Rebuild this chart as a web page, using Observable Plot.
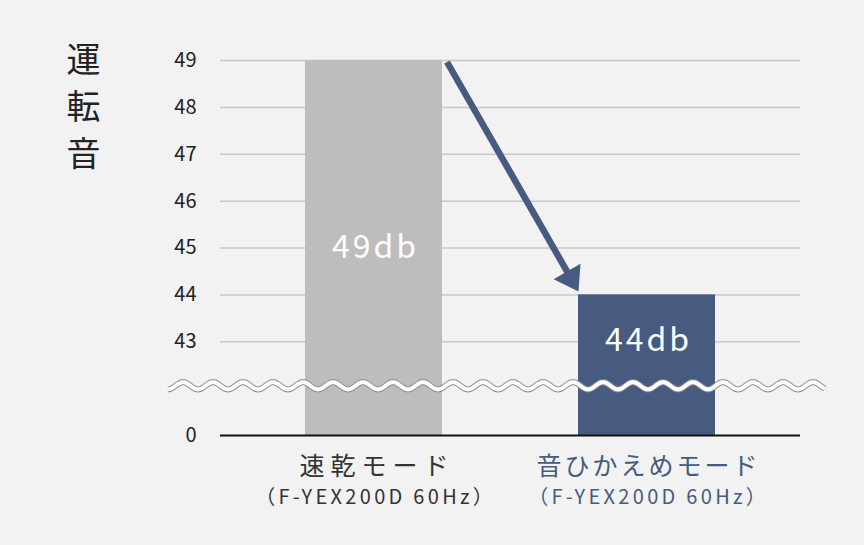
<!DOCTYPE html>
<html><head><meta charset="utf-8">
<script src="https://cdn.jsdelivr.net/npm/d3@7"></script>
<script src="https://cdn.jsdelivr.net/npm/@observablehq/plot@0.6"></script>
<style>
html,body{margin:0;padding:0;background:#f2f2f2;}
#chart{width:864px;height:545px;}
</style></head><body><div id="chart"></div>
<script>
// ---- data ----
const categories = ["速乾モード", "音ひかえめモード"];
const models = ["（F-YEX200D 60Hz）", "（F-YEX200D 60Hz）"];
const values = [49, 44];
const valueLabels = ["49db", "44db"];
const barColors = ["#bdbdbd", "#475a80"];
const textColors = ["#333333", "#475a80"];
const yTicks = [43, 44, 45, 46, 47, 48, 49];
const axisBase = 41;      // visual position of the "0" baseline (axis is broken)
const breakAt = 42.05;    // where the wavy break line sits
const yTitle = "運転音";

const data = categories.map((c, i) => ({
  category: c, model: models[i], value: values[i],
  label: valueLabels[i], bar: barColors[i], ink: textColors[i]
}));

const font = "'Noto Sans CJK JP', 'Noto Sans', sans-serif";

// wavy axis-break decoration
function waveBreak(index, scales, vals, dims) {
  const y0 = scales.y(breakAt);
  const start = dims.marginLeft - 52, end = dims.width - dims.marginRight + 26;
  const period = 30, amp = 3.6, phase = dims.marginLeft - 44.5;
  const pts = d3.range(start, end, 1).map(x => [x, y0 - amp * Math.sin(2 * Math.PI * (x - phase) / period)]);
  const path = d3.line()(pts);
  const g = d3.create("svg:g");
  g.append("path").attr("d", path).attr("fill", "none").attr("stroke", "#8c8c8c").attr("stroke-width", 6);
  g.append("path").attr("d", path).attr("fill", "none").attr("stroke", "#ffffff").attr("stroke-width", 4);
  return g.node();
}

// arrow from top of first bar to top of second bar
function arrowMark(index, scales, vals, dims) {
  const x = scales.x, y = scales.y;
  const bw = typeof x.bandwidth === "function" ? x.bandwidth() : (scales.scales && scales.scales.x && scales.scales.x.bandwidth) || 0;
  const x1 = x(categories[0]) + bw + 5, y1 = y(values[0]) + 2;
  const x2 = x(categories[1]) + 0.5, y2 = y(values[1]) - 3;
  const dx = x2 - x1, dy = y2 - y1, len = Math.hypot(dx, dy);
  const ux = dx / len, uy = dy / len, px = -uy, py = ux;
  const headLen = 23, halfW = 15.5;
  const bx = x2 - ux * headLen, by = y2 - uy * headLen;
  const col = "#475a80";
  const g = d3.create("svg:g");
  g.append("line").attr("x1", x1).attr("y1", y1)
    .attr("x2", bx + ux * 3).attr("y2", by + uy * 3)
    .attr("stroke", col).attr("stroke-width", 6.5);
  g.append("path")
    .attr("d", `M${x2},${y2}L${bx + px * halfW},${by + py * halfW}L${bx - px * halfW},${by - py * halfW}Z`)
    .attr("fill", col);
  return g.node();
}

const chart = Plot.plot({
  width: 864, height: 545,
  marginTop: 60, marginBottom: 110, marginLeft: 220, marginRight: 64,
  style: {background: "transparent", fontFamily: font, overflow: "visible"},
  x: {type: "band", domain: categories, paddingInner: 0.5, paddingOuter: 0.31, axis: null},
  y: {domain: [axisBase, d3.max(yTicks)], axis: null},
  color: {type: "identity"},
  marks: [
    Plot.gridY(yTicks, {stroke: "#c8c8c8", strokeOpacity: 1, strokeWidth: 1.5}),
    Plot.barY(data, {x: "category", y1: axisBase, y2: "value", fill: "bar"}),
    Plot.ruleY([axisBase], {stroke: "#111111", strokeWidth: 2}),
    Plot.axisY([axisBase, ...yTicks], {
      tickSize: 0, tickPadding: 24, fontSize: 20, fill: "#222222", label: null,
      tickFormat: d => d === axisBase ? "0" : String(d)
    }),
    waveBreak,
    arrowMark,
    Plot.text(data, {
      x: "category",
      y: d => d.value === d3.max(values) ? (d.value + axisBase) / 2 : (d.value + breakAt) / 2,
      text: "label", fill: "#ffffff", fontSize: 32
    }),
    Plot.text(data, {x: "category", y: axisBase, dy: 31, text: "category", fill: "ink", fontSize: 25}),
    Plot.text(data, {x: "category", y: axisBase, dy: 62, text: "model", fill: "ink", fontSize: 20}),
    Plot.text([yTitle], {
      frameAnchor: "top-left", text: d => d.split("").join("\n"),
      dx: -137, dy: -22, lineAnchor: "top", textAnchor: "middle",
      fontSize: 34, lineHeight: 1.38, fill: "#222222"
    })
  ]
});

// letter spacing for the value, category and model labels (first three text marks)
const spacings = [[3, 3], [6, 3], [3.3, 3.3]];
const textGroups = chart.querySelectorAll('g[aria-label="text"]');
textGroups.forEach((g, i) => {
  if (i < spacings.length) {
    g.querySelectorAll("text").forEach((t, j) => {
      const s = spacings[i][j % spacings[i].length];
      t.style.letterSpacing = s + "px";
      // compensate trailing spacing so text stays centred
      t.setAttribute("dx", s / 2);
    });
  }
});
document.getElementById("chart").appendChild(chart);
</script>
</body></html>
